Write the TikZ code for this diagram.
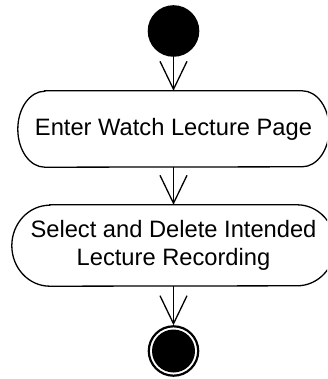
\documentclass[tikz,border=0pt]{standalone}
\usepackage{fontspec}
\setmainfont{Liberation Sans}
\usetikzlibrary{arrows.meta}
\begin{document}
\begin{tikzpicture}[x=1pt,y=-1pt,
  lw/.style={line width=1.3pt},
  flow/.style={lw, -{Straight Barb[length=28pt,width=27pt,line width=1.3pt]}},
  act/.style={inner sep=0pt, align=center, font=\fontsize{23.7}{28.5}\selectfont},
  startdot/.style={circle, fill=black, minimum size=51.6pt, inner sep=0pt},
  enddot/.style={circle, draw=black, line width=2.2pt, minimum size=49.4pt, inner sep=0pt}]
\useasboundingbox (0,0) rectangle (327,379);
\clip (0,0) rectangle (327,379);
\node[startdot] (s) at (173.5,31) {};
\node[act, minimum width=311pt, minimum height=76pt] (a1) at (173.5,129) {Enter Watch Lecture Page};
\node[act, minimum width=323pt, minimum height=81pt] (a2) at (173.5,245.5) {Select and Delete Intended\\Lecture Recording};
\node[enddot] (e) at (173.5,351) {};
\fill (e.center) circle[radius=21.5pt];
\draw[lw] ([xshift=27pt]a1.north west) -- ([xshift=-27pt]a1.north east)
  arc[start angle=90,end angle=-90,x radius=27pt,y radius=38pt]
  -- ([xshift=27pt]a1.south west)
  arc[start angle=270,end angle=90,x radius=27pt,y radius=38pt] -- cycle;
\draw[lw] ([xshift=38pt]a2.north west) -- ([xshift=-38pt]a2.north east)
  arc[start angle=90,end angle=-90,x radius=38pt,y radius=40.5pt]
  -- ([xshift=38pt]a2.south west)
  arc[start angle=270,end angle=90,x radius=38pt,y radius=40.5pt] -- cycle;
\draw[flow] (s) -- (a1);
\draw[flow] (a1) -- (a2);
\draw[flow] (a2) -- (e);
\end{tikzpicture}
\end{document}
